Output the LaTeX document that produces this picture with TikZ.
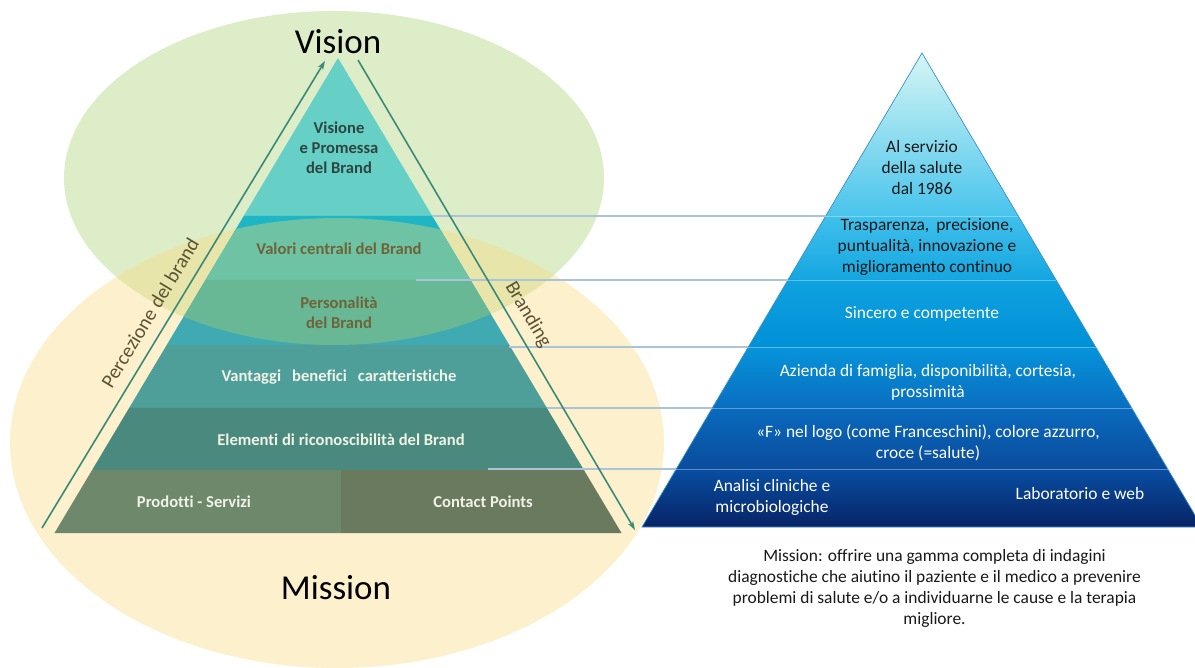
\documentclass[tikz,border=0pt]{standalone}
\usepackage{fontspec}
\setmainfont{Carlito}[Ligatures=NoCommon]
\usetikzlibrary{arrows.meta,calc}
\definecolor{greenE}{HTML}{DDEDC8}
\definecolor{yellowE}{RGB}{250,218,128}
\definecolor{Lone}{HTML}{66CFC6}
\definecolor{Ltwo}{HTML}{1EB6C4}
\definecolor{Lthree}{HTML}{40AAB2}
\definecolor{lenstwo}{HTML}{6EC3A5}
\definecolor{lensthree}{HTML}{68B896}
\definecolor{Lfour}{HTML}{4E9E9A}
\definecolor{Lfive}{HTML}{4A8A7E}
\definecolor{Lsixa}{HTML}{6E886C}
\definecolor{Lsixb}{HTML}{6A7A5E}
\definecolor{arrc}{HTML}{3A8A7A}
\definecolor{connc}{HTML}{A9C3D9}
\definecolor{sidec}{HTML}{5B5334}
\definecolor{olivet}{HTML}{6E6438}
\definecolor{darkt}{HTML}{2E4640}
\definecolor{palet}{HTML}{F0F2E6}
\definecolor{redge}{HTML}{3C8FC8}
\begin{document}
\begin{tikzpicture}[x=1pt,y=-1pt,
  conn/.style={draw=connc, line width=1.1pt},
  arr/.style={draw=arrc, line width=1.6pt, -{Stealth[length=9pt,width=6pt]}},
  ltext/.style={font=\bfseries\fontsize{16.6}{20}\selectfont, align=center, inner sep=0pt},
  rtext/.style={font=\fontsize{17.4}{21}\selectfont, align=center, inner sep=0pt},
  big/.style={font=\fontsize{35}{40}\selectfont, inner sep=0pt},
  side/.style={font=\fontsize{20}{24}\selectfont, text=sidec, inner sep=0pt},
  rsep/.style={draw=white, draw opacity=0.35, line width=0.8pt}
]
\useasboundingbox (0,0) rectangle (1195,668);
\clip (0,0) rectangle (1195,668);
\fill[white] (0,0) rectangle (1195,668);

% ellipses
\fill[greenE] (334,178) ellipse [x radius=270pt, y radius=167pt];
\fill[yellowE, fill opacity=0.4] (337,443) ellipse [x radius=327pt, y radius=225pt];

% left pyramid
\fill[Lone] (338,58) -- (432.3,216) -- (243.7,216) -- cycle;
\fill[Ltwo] (243.7,216) -- (432.3,216) -- (470.5,280) -- (205.5,280) -- cycle;
\fill[Lthree] (205.5,280) -- (470.5,280) -- (509.3,345) -- (166.7,345) -- cycle;
\fill[Lfour] (166.7,345) -- (509.3,345) -- (546.9,408) -- (129.1,408) -- cycle;
\fill[Lfive] (129.1,408) -- (546.9,408) -- (583.9,470) -- (92.1,470) -- cycle;
\fill[Lsixa] (92.1,470) -- (341,470) -- (341,533) -- (54.5,533) -- cycle;
\fill[Lsixb] (341,470) -- (583.9,470) -- (621.5,533) -- (341,533) -- cycle;
\begin{scope}
  \clip (334,178) ellipse [x radius=270pt, y radius=167pt];
  \clip (337,443) ellipse [x radius=327pt, y radius=225pt];
  \fill[lenstwo] (243.7,216) -- (432.3,216) -- (470.5,280) -- (205.5,280) -- cycle;
  \fill[lensthree] (205.5,280) -- (470.5,280) -- (509.3,345) -- (166.7,345) -- cycle;
\end{scope}

% right pyramid
\shade[top color={rgb,255:red,214;green,246;blue,244}, bottom color={rgb,255:red,72;green,196;blue,236}]
  (922,53) -- (1018.3,216) -- (825.7,216) -- cycle;
\shade[top color={rgb,255:red,64;green,192;blue,236}, bottom color={rgb,255:red,20;green,166;blue,224}]
  (825.7,216) -- (1018.3,216) -- (1056.1,280) -- (787.9,280) -- cycle;
\shade[top color={rgb,255:red,15;green,162;blue,224}, bottom color={rgb,255:red,0;green,144;blue,214}]
  (787.9,280) -- (1056.1,280) -- (1095.7,347) -- (748.3,347) -- cycle;
\shade[top color={rgb,255:red,6;green,148;blue,218}, bottom color={rgb,255:red,10;green,110;blue,192}]
  (748.3,347) -- (1095.7,347) -- (1131.7,408) -- (712.3,408) -- cycle;
\shade[top color={rgb,255:red,10;green,106;blue,190}, bottom color={rgb,255:red,10;green,76;blue,156}]
  (712.3,408) -- (1131.7,408) -- (1167.7,469) -- (676.3,469) -- cycle;
\shade[top color={rgb,255:red,8;green,78;blue,162}, bottom color={rgb,255:red,8;green,36;blue,102}]
  (676.3,469) -- (1167.7,469) -- (1202,527) -- (642,527) -- cycle;
\draw[redge, line width=0.7pt] (922,53) -- (1202,527) -- (642,527) -- cycle;
\draw[rsep] (825.7,216) -- (1018.3,216);
\draw[rsep] (787.9,280) -- (1056.1,280);
\draw[rsep] (748.3,347) -- (1095.7,347);
\draw[rsep] (712.3,408) -- (1131.7,408);
\draw[rsep] (676.3,469) -- (1167.7,469);

% connector lines
\coordinate (ca1) at (432,216); \coordinate (cb1) at (825.7,216);
\coordinate (ca2) at (416,280); \coordinate (cb2) at (787.9,280);
\coordinate (ca3) at (509,347); \coordinate (cb3) at (748.3,347);
\coordinate (ca4) at (547,408); \coordinate (cb4) at (712.3,408);
\coordinate (ca5) at (488,469); \coordinate (cb5) at (676.3,469);
\draw[conn] (ca1) -- (cb1);
\draw[conn] (ca2) -- (cb2);
\draw[conn] (ca3) -- (cb3);
\draw[conn] (ca4) -- (cb4);
\draw[conn] (ca5) -- (cb5);

% arrows
\coordinate (pa) at (42,528); \coordinate (pb) at (325,61);
\coordinate (ba) at (358,60); \coordinate (bb) at (635,530);
\draw[arr] (pa) -- (pb);
\draw[arr] (ba) -- (bb);
\node[side, rotate=58.8] (perc) at (150,313) {Percezione del brand};
\node[side, rotate=-59.5] (brand) at (528,315) {Branding};

% titles
\node[big] (vision) at (338,42) {Vision};
\node[big] (mission) at (336,588) {Mission};

% left texts
\node[ltext, text=darkt] (t1) at (339,148) {Visione\\e Promessa\\del Brand};
\node[ltext, text=olivet] (t2) at (339,249) {Valori centrali del Brand};
\node[ltext, text=olivet] (t3) at (339,313) {Personalità\\del Brand};
\node[ltext, text=palet] (t4) at (339,377) {Vantaggi\hspace{11pt}benefici\hspace{11pt}caratteristiche};
\node[ltext, text=palet] (t5) at (341,440) {Elementi di riconoscibilità del Brand};
\node[ltext, text=palet] (t6) at (194,502) {Prodotti - Servizi};
\node[ltext, text=palet] (t7) at (483,502) {Contact Points};

% right texts
\node[rtext, text=black!90] (r1) at (922,168) {Al servizio\\della salute\\dal 1986};
\node[rtext, text=black!90] (r2) at (927,247) {Trasparenza,\hspace{7pt}precisione,\\puntualità, innovazione e\\miglioramento continuo};
\node[rtext, text=white] (r3) at (922,314) {Sincero e competente};
\node[rtext, text=white] (r4) at (928,382.5) {Azienda di famiglia, disponibilità, cortesia,\\prossimità};
\node[rtext, text=white] (r5) at (928,442.5) {«F» nel logo (come Franceschini), colore azzurro,\\croce (=salute)};
\node[rtext, text=white] (r6) at (772,497.5) {Analisi cliniche e\\microbiologiche};
\node[rtext, text=white] (r7) at (1080,494) {Laboratorio e web};
\node[rtext, text=black!90] (ms) at (934.5,588.5) {Mission: offrire una gamma completa di indagini\\diagnostiche che aiutino il paziente e il medico a prevenire\\problemi di salute e/o a individuarne le cause e la terapia\\migliore.};
\end{tikzpicture}
\end{document}
